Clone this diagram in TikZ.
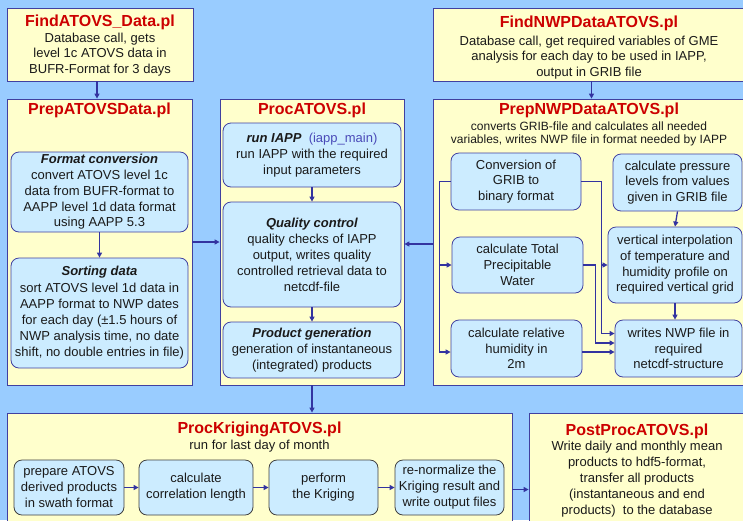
\documentclass[tikz,border=0pt]{standalone}
\usepackage{fontspec}
\setmainfont{Liberation Sans}
\usetikzlibrary{arrows.meta,fit,calc}
\definecolor{bg}{HTML}{99CCFF}
\definecolor{ybox}{HTML}{FFFFCC}
\definecolor{cbox}{HTML}{CCECFF}
\definecolor{edge}{HTML}{4040A0}
\definecolor{arrowc}{HTML}{3333A0}
\definecolor{titlered}{HTML}{CC0000}
\definecolor{iappblue}{HTML}{4A4AB8}
\definecolor{txt}{HTML}{1A1A1A}
\begin{document}
\begin{tikzpicture}[x=1pt,y=-1pt,
 outer/.style={draw=edge, fill=ybox, line width=0.8pt, inner sep=0pt},
 inner/.style={draw=edge, fill=cbox, line width=0.8pt, rounded corners=8pt, inner sep=0pt},
 kbox/.style={inner, draw=black!75},
 ttl/.style={text=titlered, font=\fontsize{16}{18}\selectfont\bfseries, inner sep=0pt},
 body/.style={text=txt, align=center, inner sep=0pt, font=\fontsize{13}{15.7}\selectfont},
 small/.style={text=txt, align=center, inner sep=0pt, font=\fontsize{12}{13}\selectfont},
 arr/.style={draw=arrowc, line width=1.3pt, -{Triangle[length=5pt,width=5pt]}},
]
\path[use as bounding box, fill=bg] (0,0) rectangle (743,520);
\clip (0,0) rectangle (743,520);

% outer boxes
\node[outer, fit={(7,8) (193,81)}] (findatovs) {};
\node[outer, fit={(433,8) (750,81)}] (findnwp) {};
\node[outer, fit={(7,99) (192,385)}] (prepatovs) {};
\node[outer, fit={(220,99) (404,385)}] (procatovs) {};
\node[outer, fit={(433,99) (750,385)}] (prepnwp) {};
\node[outer, fit={(7,413) (512,530)}] (kriging) {};
\node[outer, fit={(529,413) (750,530)}] (postproc) {};

% texts of outer boxes
\node[ttl] (t1) at (100,22) {FindATOVS\_Data.pl};
\node[body] (b1) at (100,54.5) {Database call, gets\\level 1c ATOVS data in\\BUFR-Format for 3 days};
\node[ttl] (t2) at (589,23) {FindNWPDataATOVS.pl};
\node[body] (b2) at (589,57.5) {Database call, get required variables of GME\\analysis for each day to be used in IAPP,\\output in GRIB file};
\node[ttl] (t3) at (99.5,110) {PrepATOVSData.pl};
\node[ttl] (t4) at (312,110) {ProcATOVS.pl};
\node[ttl] (t5) at (589,110) {PrepNWPDataATOVS.pl};
\node[small] (b5) at (589,133.5) {converts GRIB-file and calculates all needed\\variables, writes NWP file in format needed by IAPP};
\node[ttl] (t6) at (259.5,429) {ProcKrigingATOVS.pl};
\node[body] (b6) at (259.5,446) {run for last day of month};
\node[ttl] (t7) at (637,431) {PostProcATOVS.pl};
\node[body, font=\fontsize{13}{16}\selectfont] (b7) at (637,479) {Write daily and monthly mean\\products to hdf5-format,\\transfer all products\\(instantaneous and end\\products)\ \ to the database};

% inner boxes
\node[inner, fit={(11,152) (188,232)}] (fmt) {};
\node[body, font=\fontsize{13}{15.8}\selectfont] (fmtT) at (fmt.center) {\textbf{\textit{Format conversion}}\\convert ATOVS level 1c\\data from BUFR-format to\\AAPP level 1d data format\\using AAPP 5.3};
\node[inner, fit={(11,258) (188,368)}] (sortd) {};
\node[body, font=\fontsize{13}{16.2}\selectfont] (sortdT) at (sortd.center) {\textbf{\textit{Sorting data}}\\sort ATOVS level 1d data in\\AAPP format to NWP dates\\for each day (±1.5 hours of\\NWP analysis time, no date\\shift, no double entries in file)};
\node[inner, fit={(223,123) (401,187)}] (iapp) {};
\node[body, font=\fontsize{13}{16}\selectfont] (iappT) at (iapp.center) {\textbf{\textit{run IAPP}}\ \ {\color{iappblue}(iapp\_main)}\\run IAPP with the required\\input parameters};
\node[inner, fit={(223,202) (401,307)}] (qc) {};
\node[body, font=\fontsize{13}{16}\selectfont] (qcT) at (qc.center) {\textbf{\textit{Quality control}}\\quality checks of IAPP\\output, writes quality\\controlled retrieval data to\\netcdf-file};
\node[inner, fit={(223,322) (401,378)}] (prodgen) {};
\node[body, font=\fontsize{13}{16}\selectfont] (prodgenT) at (prodgen.center) {\textbf{\textit{Product generation}}\\generation of instantaneous\\(integrated) products};
\node[inner, fit={(451,153) (581,210)}] (conv) {};
\node[body] (convT) at (conv.center) {Conversion of\\GRIB to\\binary format};
\node[inner, fit={(613,154) (742,211)}] (pres) {};
\node[body] (presT) at (pres.center) {calculate pressure\\levels from values\\given in GRIB file};
\node[inner, fit={(452,237) (583,293)}] (tpw) {};
\node[body] (tpwT) at (tpw.center) {calculate Total\\Precipitable\\Water};
\node[inner, fit={(608,227) (742,303)}] (vint) {};
\node[body] (vintT) at (vint.center) {vertical interpolation\\of temperature and\\humidity profile on\\required vertical grid};
\node[inner, fit={(451,320) (582,377)}] (rh) {};
\node[body] (rhT) at (rh.center) {calculate relative\\humidity in\\2m};
\node[inner, fit={(615,320) (742,377)}] (writes) {};
\node[body] (writesT) at (writes.center) {writes NWP file in\\required\\netcdf-structure};
\node[kbox, fit={(14,460) (124,515)}] (k1) {};
\node[body, font=\fontsize{13}{16}\selectfont] (k1T) at (k1.center) {prepare ATOVS\\derived products\\in swath format};
\node[kbox, fit={(139,460) (253,515)}] (k2) {};
\node[body, font=\fontsize{13}{16}\selectfont] (k2T) at (k2.center) {calculate\\correlation length};
\node[kbox, fit={(269,460) (378,515)}] (k3) {};
\node[body, font=\fontsize{13}{16}\selectfont] (k3T) at (k3.center) {perform\\the Kriging};
\node[kbox, fit={(395,460) (504,515)}] (k4) {};
\node[body, font=\fontsize{13}{16}\selectfont] (k4T) at (k4.center) {re-normalize the\\Kriging result and\\write output files};

% connectors
\draw[arr] ([xshift=-3pt]findatovs.south) -- ([xshift=-3pt]findatovs.south |- prepatovs.north);
\draw[arr] (findnwp.south) -- (findnwp.south |- prepnwp.north);
\draw[arr] (fmt.south) -- (sortd.north);
\draw[arr] (prepatovs.east) -- (prepatovs.east -| procatovs.west);
\draw[arr] ([yshift=-2pt]prepnwp.west) -- ([yshift=-2pt]prepnwp.west -| procatovs.east);
\draw[arr] (iapp.south) -- (qc.north);
\draw[arr] (qc.south) -- (prodgen.north);
\draw[arr] (procatovs.south) -- (procatovs.south |- kriging.north);
\draw[arr] (k1.east) -- (k2.west);
\draw[arr] (k2.east) -- (k3.west);
\draw[arr] (k3.east) -- (k4.west);
\draw[arr] ([yshift=-2pt]k4.east -| kriging.east) -- ([yshift=-2pt]k4.east -| postproc.west);
\draw[arr] (conv.west) -- ++(-11,0) |- (tpw.west);
\draw[arr] (conv.west) -- ++(-11,0) |- ([yshift=-3.5pt]rh.west);
\draw[arr] (conv.east) -- ++(20,0) |- (vint.west);
\draw[arr] (conv.east) -- ++(20,0) |- ([yshift=15pt]writes.west);
\draw[arr] (tpw.east) -- ++(12,0) |- ([yshift=5.5pt]writes.west);
\draw[arr] ([yshift=-3.5pt]rh.east) -- ([yshift=-3.5pt]rh.east -| writes.west);
\draw[arr] (pres.south) -- (vint.north);
\draw[arr] (vint.south) -- (vint.south |- writes.north);
\end{tikzpicture}
\end{document}
